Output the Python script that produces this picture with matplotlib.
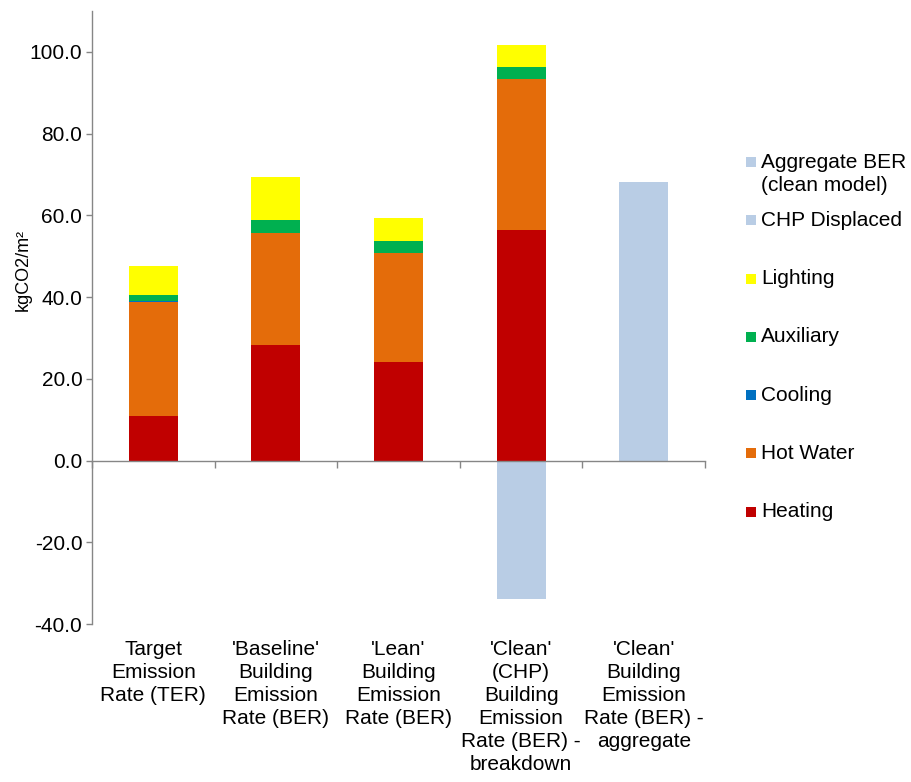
import matplotlib
matplotlib.use("Agg")
import matplotlib.pyplot as plt
import numpy as np
from matplotlib.patches import Rectangle

plt.rcParams['font.family'] = ['Liberation Sans', 'DejaVu Sans']
plt.rcParams['axes.unicode_minus'] = False

#
# Data (kgCO2/m2)
#
categories = ["Target\nEmission\nRate (TER)",
              "'Baseline'\nBuilding\nEmission\nRate (BER)",
              "'Lean'\nBuilding\nEmission\nRate (BER)",
              "'Clean'\n(CHP)\nBuilding\nEmission\nRate (BER) -\nbreakdown",
              "'Clean'\nBuilding\nEmission\nRate (BER) -\naggregate"]

heating = [10.8, 28.2, 24.0, 56.3, 0.0]
hot_water = [28.0, 27.5, 26.8, 37.1, 0.0]
cooling = [0.3, 0.0, 0.0, 0.0, 0.0]
auxiliary = [1.5, 3.1, 3.0, 3.0, 0.0]
lighting = [7.1, 10.7, 5.5, 5.4, 0.0]
chp_displaced = [0.0, 0.0, 0.0, -34.0, 0.0]
aggregate = [0.0, 0.0, 0.0, 0.0, 68.2]

yticks = [-40, -20, 0, 20, 40, 60, 80, 100]

c_heat = "#C00000"
c_hw = "#E46C0A"
c_cool = "#0070C0"
c_aux = "#00B050"
c_light = "#FFFF00"
c_chp = "#B9CDE5"
c_axis = "#868686"

fig = plt.figure(figsize=(9.12, 7.82), dpi=100)
ax = fig.add_axes([92 / 912., 1 - 624 / 782., 613 / 912., 613 / 782.])

x = np.arange(len(categories))
w = 0.4

bottom = np.zeros(len(categories))
for vals, clr in [(heating, c_heat), (hot_water, c_hw), (cooling, c_cool),
                  (auxiliary, c_aux), (lighting, c_light)]:
    ax.bar(x, vals, w, bottom=bottom, color=clr, linewidth=0)
    bottom += np.array(vals)

ax.bar(x, chp_displaced, w, color=c_chp, linewidth=0)
ax.bar(x, aggregate, w, color=c_chp, linewidth=0)

ax.set_xlim(-0.5, len(categories) - 0.5)
ax.set_ylim(-40, 110)
ax.set_yticks(yticks)
ax.set_yticklabels(["%.1f" % v for v in yticks], fontsize=15)
ax.set_xticks(np.arange(-0.5, len(categories), 1))
ax.set_xticklabels([])

for s in ["top", "right"]:
    ax.spines[s].set_visible(False)
ax.spines["bottom"].set_position(("data", 0))
for s in ["left", "bottom"]:
    ax.spines[s].set_color(c_axis)
    ax.spines[s].set_linewidth(1.0)
ax.tick_params(axis="y", direction="out", length=4, width=1.0, color=c_axis, pad=3)
ax.tick_params(axis="x", direction="out", length=5, width=1.0, color=c_axis)

# category labels below the plot area
for i, lbl in enumerate(categories):
    ax.text(i, -0.026, lbl, transform=ax.get_xaxis_transform(), ha="center",
            va="top", fontsize=15, linespacing=1.27)

fig.text(23 / 912., 1 - 270 / 782., "kgCO2/m\u00b2", rotation=90, ha="center",
         va="center", fontsize=13)

# legend, Excel style: evenly spaced entries on the right
legend_items = [("Aggregate BER\n(clean model)", c_chp),
                ("CHP Displaced", c_chp),
                ("Lighting", c_light),
                ("Auxiliary", c_aux),
                ("Cooling", c_cool),
                ("Hot Water", c_hw),
                ("Heating", c_heat)]
y0, step, line = 162.0, 58.3, 24.0
W, H = 912., 782.
for i, (lbl, clr) in enumerate(legend_items):
    yc = y0 + i * step
    fig.add_artist(Rectangle((746 / W, 1 - (yc + 5) / H), 10 / W, 10 / H,
                             facecolor=clr, edgecolor="none",
                             transform=fig.transFigure))
    nl = lbl.count("\n")
    fig.text(761 / W, 1 - (yc + nl * line / 2.) / H, lbl, ha="left",
             va="center", fontsize=15, linespacing=1.25)

fig.savefig("out.png", dpi=100)
